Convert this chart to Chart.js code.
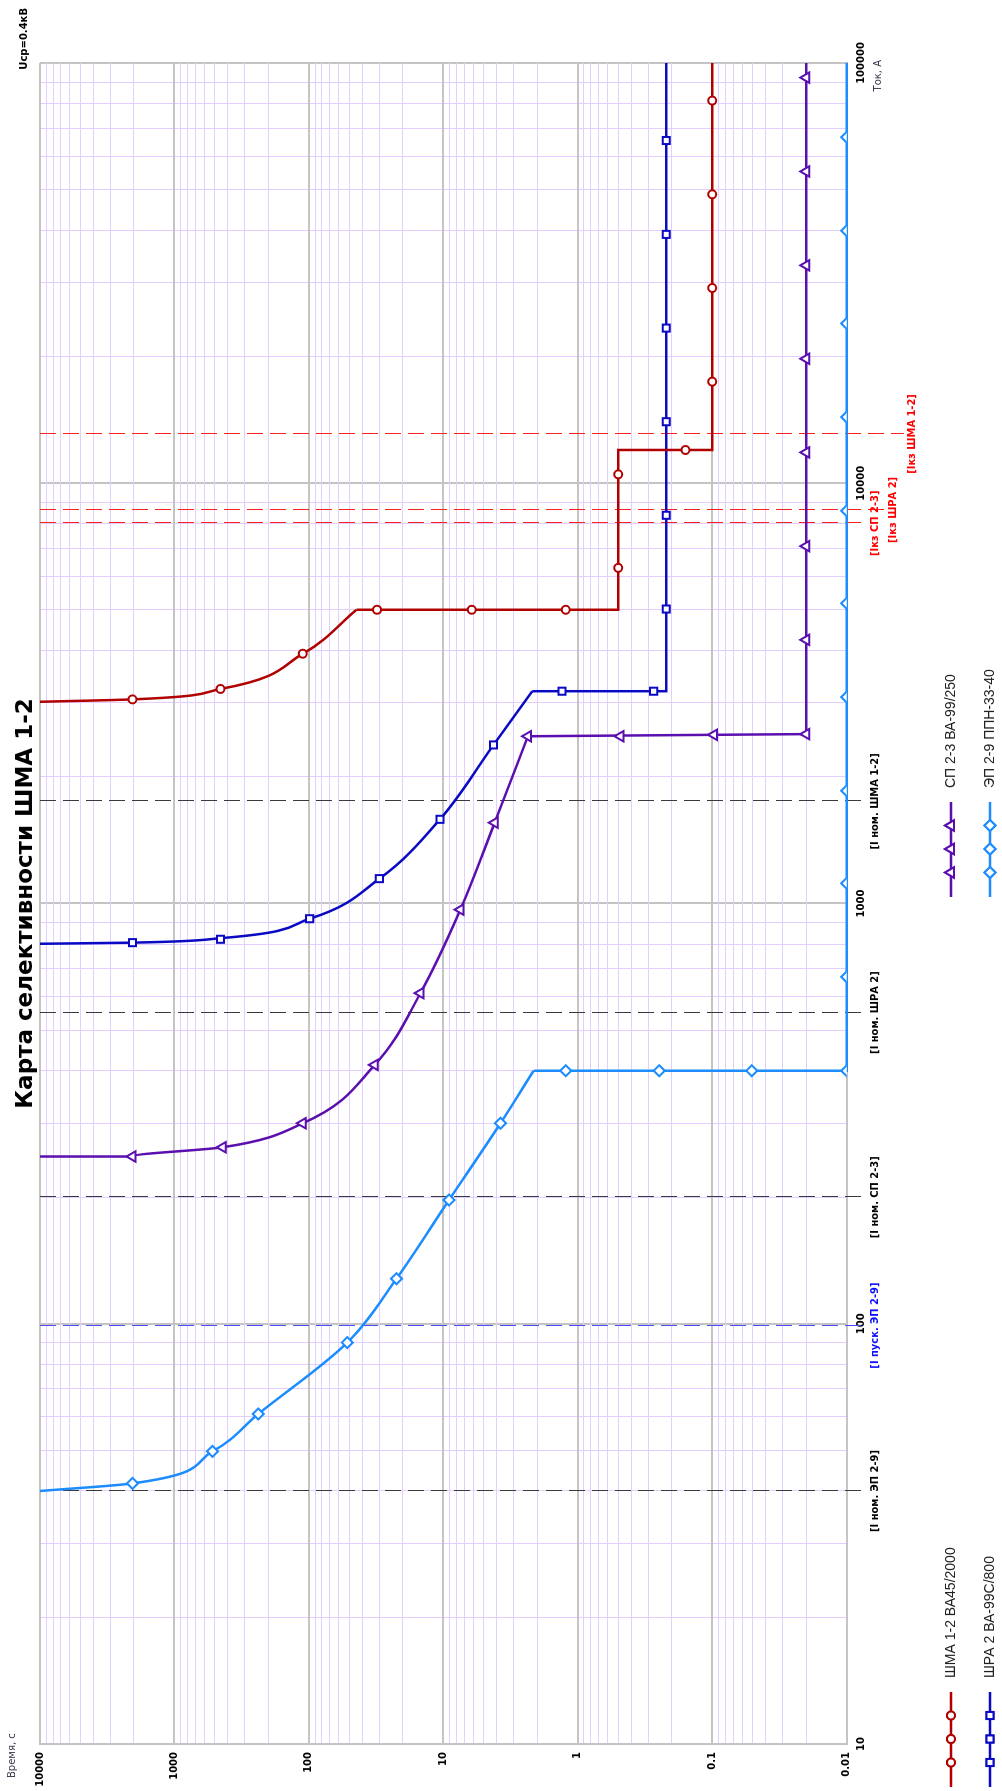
<!DOCTYPE html>
<html><head><meta charset="utf-8">
<script src="https://cdn.jsdelivr.net/npm/chart.js@4/dist/chart.umd.min.js"></script>
<style>
html,body{margin:0;padding:0;background:#fff;overflow:hidden;width:1002px;height:1791px}
#wrap{position:absolute;left:0;top:1791px;width:1791px;height:1002px;transform-origin:0 0;transform:rotate(-90deg)}
canvas{display:block}
</style></head><body>
<div id="wrap"><canvas id="c" width="1791" height="1002"></canvas></div>
<script>
// ================= DATA =================
const chartTitle = 'Карта селективности ШМА 1-2';
const voltageNote = 'Uср=0.4кВ';
const currentAxisTitle = 'Ток, А';
const timeAxisTitle = 'Время, с';
const seriesNames = ['ШМА 1-2 ВА45/2000', 'ШРА 2 ВА-99С/800', 'СП 2-3 ВА-99/250', 'ЭП 2-9 ППН-33-40'];

const currentTickValues = [10, 100, 1000, 10000, 100000];
const currentTickLabels = ['10', '100', '1000', '10000', '100000'];
const timeTickValues = [0.01, 0.1, 1, 10, 100, 1000, 10000];
const timeTickLabels = ['0.01', '0.1', '1', '10', '100', '1000', '10000'];

// ШМА 1-2 ВА45/2000 (current A, time s)
const shmaCurveI = [3020, 3060, 3240, 3930, 5000];
const shmaCurveT = [10000, 2050, 454, 111, 44.3];
const shmaStepI = [5000, 5000, 12000, 12000, 100000];
const shmaStepT = [44.3, 0.5, 0.5, 0.1, 0.1];
const shmaMarkI = [3060, 3240, 3930, 5000, 5000, 5000, 6290, 10500, 12000, 17450, 29150, 48700, 81400];
const shmaMarkT = [2050, 454, 111, 31.1, 6.14, 1.23, 0.5, 0.5, 0.158, 0.1, 0.1, 0.1, 0.1];

// ШРА 2 ВА-99С/800
const shraCurveI = [802, 807, 827, 920, 1146, 1586, 2384, 3200];
const shraCurveT = [10000, 2050, 454, 98.8, 29.9, 10.6, 4.23, 2.18];
const shraStepI = [3200, 3200, 100000];
const shraStepT = [2.18, 0.22, 0.22];
const shraMarkI = [807, 822, 920, 1146, 1586, 2384, 3200, 3200, 5020, 8390, 14010, 23400, 39100, 65400];
const shraMarkT = [2050, 454, 98.8, 29.9, 10.6, 4.23, 1.31, 0.273, 0.22, 0.22, 0.22, 0.22, 0.22, 0.22];

// СП 2-3 ВА-99/250
const spCurveI = [250, 250, 263, 300, 413, 612, 967, 1557, 2500];
const spCurveT = [10000, 2050, 437, 111, 32.4, 14.8, 7.46, 4.15, 2.35];
const spStepI = [2500, 2530, 100000];
const spStepT = [2.35, 0.02, 0.02];
const spMarkI = [250, 263, 300, 413, 612, 967, 1557, 2500, 2500, 2520, 2530, 4240, 7085, 11840, 19780, 33000, 55200, 92300];
const spMarkT = [2050, 437, 111, 32.4, 14.8, 7.46, 4.15, 2.35, 0.482, 0.0969, 0.02, 0.02, 0.02, 0.02, 0.02, 0.02, 0.02, 0.02];

// ЭП 2-9 ППН-33-40
const epCurveI = [40, 41.7, 49.7, 61, 90.2, 128, 197, 300, 400];
const epCurveT = [10000, 2050, 521, 238, 51.8, 22.3, 9.08, 3.76, 2.13];
const epStepI = [400, 400, 100000];
const epStepT = [2.13, 0.01, 0.01];
const epMarkI = [41.7, 49.7, 61, 90.2, 128, 197, 300, 400, 400, 400, 400, 669, 1117, 1855, 3099, 5180, 8600, 14370, 24000, 39900, 66600];
const epMarkT = [2050, 521, 238, 51.8, 22.3, 9.08, 3.76, 1.23, 0.248, 0.0508, 0.01, 0.01, 0.01, 0.01, 0.01, 0.01, 0.01, 0.01, 0.01, 0.01, 0.01];

// reference currents (dashed lines)
const refCurrents = [40, 99, 200, 550, 1750, 8030, 8640, 13100];
const refLabels = ['[I ном. ЭП 2-9]', '[I пуск. ЭП 2-9]', '[I ном. СП 2-3]', '[I ном. ШРА 2]', '[I ном. ШМА 1-2]', '[Iкз СП 2-3]', '[Iкз ШРА 2]', '[Iкз ШМА 1-2]'];
const refKinds = ['nom', 'start', 'nom', 'nom', 'nom', 'sc', 'sc', 'sc'];

// ================= STYLES =================
const seriesStyles = [
  {color: '#b00000', point: 'circle', r: 4},
  {color: '#0a0ac4', point: 'rect', r: 5},
  {color: '#5a0fae', point: 'triangle', r: 6},
  {color: '#1c8cff', point: 'rectRot', r: 5.5}
];
const refStyles = {
  nom: {line: '#3a3a3a', text: '#000000'},
  start: {line: '#4a4aff', text: '#1010ff'},
  sc: {line: '#ff2020', text: '#ff0000'}
};
const refLabelRow = [0, 0, 0, 0, 0, 0, 1, 2];
const labelRowCenter = [875, 893.5, 912];
const FONT = "'DejaVu Sans', sans-serif";
const LBLFONT = "'Liberation Sans', Arial, sans-serif";
const REFFONT = "bold 11px 'DejaVu Sans Condensed', 'DejaVu Sans', sans-serif";

// ================= BUILD =================
const pts = (I, T) => I.map((v, i) => ({x: v, y: T[i]}));
const allSeries = [
  [shmaCurveI, shmaCurveT, shmaStepI, shmaStepT, shmaMarkI, shmaMarkT],
  [shraCurveI, shraCurveT, shraStepI, shraStepT, shraMarkI, shraMarkT],
  [spCurveI, spCurveT, spStepI, spStepT, spMarkI, spMarkT],
  [epCurveI, epCurveT, epStepI, epStepT, epMarkI, epMarkT]
];
const datasets = [];
allSeries.forEach((s, k) => {
  const st = seriesStyles[k];
  datasets.push({label: seriesNames[k] + ' curve', data: pts(s[0], s[1]), showLine: true, borderColor: st.color,
    borderWidth: 2.5, pointRadius: 0, cubicInterpolationMode: 'monotone', clip: 4, order: 2});
  datasets.push({label: seriesNames[k] + ' step', data: pts(s[2], s[3]), showLine: true, borderColor: st.color,
    borderWidth: 2.5, pointRadius: 0, tension: 0, clip: 4, order: 2});
  datasets.push({label: seriesNames[k], data: pts(s[4], s[5]), showLine: false, borderColor: st.color,
    backgroundColor: '#ffffff', pointStyle: st.point, pointRadius: st.r, pointBorderWidth: 2, clip: 0, order: 1});
});

const isDecade = v => Math.abs(Math.log10(v) - Math.round(Math.log10(v))) < 1e-6;
const lookup = (vals, labels, v) => {
  for (let i = 0; i < vals.length; i++) if (Math.abs(vals[i] - v) / vals[i] < 1e-6) return labels[i];
  return '';
};
const gridColor = c => (c.tick && isDecade(c.tick.value)) ? '#c4c4c4' : '#e3cfff';
const gridWidth = c => (c.tick && isDecade(c.tick.value)) ? 2 : 1;

const refPlugin = {
  id: 'refLines',
  beforeDatasetsDraw(chart) {
    const {ctx, chartArea} = chart;
    const xs = chart.scales.x;
    ctx.save();
    refCurrents.forEach((I, i) => {
      const st = refStyles[refKinds[i]];
      const x = Math.round(xs.getPixelForValue(I)) + 0.5;
      const rowC = labelRowCenter[refLabelRow[i]];
      ctx.beginPath();
      ctx.setLineDash([16, 7]);
      ctx.strokeStyle = st.line;
      ctx.lineWidth = 1;
      ctx.moveTo(x, chartArea.top);
      ctx.lineTo(x, rowC - 8);
      ctx.stroke();
    });
    ctx.restore();
  },
  afterDraw(chart) {
    const {ctx} = chart;
    const xs = chart.scales.x;
    ctx.save();
    ctx.textAlign = 'center';
    ctx.textBaseline = 'middle';
    ctx.font = REFFONT;
    refCurrents.forEach((I, i) => {
      const st = refStyles[refKinds[i]];
      const x = xs.getPixelForValue(I);
      ctx.fillStyle = st.text;
      ctx.fillText(refLabels[i], x, labelRowCenter[refLabelRow[i]]);
    });
    ctx.restore();
  }
};

const textPlugin = {
  id: 'texts',
  afterDraw(chart) {
    const {ctx, chartArea} = chart;
    ctx.save();
    // title
    ctx.fillStyle = '#000';
    ctx.font = "bold 23px " + FONT;
    ctx.textAlign = 'center';
    ctx.textBaseline = 'alphabetic';
    ctx.fillText(chartTitle, (chartArea.left + chartArea.right) / 2, 32);
    // voltage
    ctx.font = "bold 10px " + FONT;
    ctx.textAlign = 'right';
    ctx.fillText(voltageNote, 1783, 27);
    // axis titles
    ctx.font = "10px " + FONT;
    ctx.fillStyle = '#3c3c50';
    ctx.textAlign = 'left';
    ctx.fillText(timeAxisTitle, 13, 15);
    ctx.textAlign = 'right';
    ctx.fillText(currentAxisTitle, 1731, 881);
    // legend
    const cols = [4, 894];
    const rows = [951, 990];
    const order = [[0, 0], [1, 0], [0, 1], [1, 1]]; // [row, col] for each series
    ctx.font = "14px " + LBLFONT;
    ctx.textBaseline = 'middle';
    ctx.textAlign = 'left';
    seriesNames.forEach((name, k) => {
      const st = seriesStyles[k];
      const x0 = cols[order[k][1]];
      const y = rows[order[k][0]];
      ctx.beginPath();
      ctx.setLineDash([]);
      ctx.strokeStyle = st.color;
      ctx.lineWidth = 2.5;
      ctx.moveTo(x0, y);
      ctx.lineTo(x0 + 95, y);
      ctx.stroke();
      [24.5, 48, 71.5].forEach(dx => {
        ctx.fillStyle = '#fff';
        ctx.lineWidth = 2;
        Chart.helpers.drawPoint(ctx, {pointStyle: st.point, radius: st.r, borderWidth: 2, rotation: 0}, x0 + dx, y);
        ctx.fill();
        ctx.stroke();
      });
      ctx.fillStyle = '#222';
      ctx.fillText(name, x0 + 109, y);
    });
    ctx.restore();
  }
};

new Chart(document.getElementById('c'), {
  type: 'scatter',
  data: {datasets},
  options: {
    responsive: false,
    animation: false,
    events: [],
    layout: {padding: {left: 0, right: 63, top: 40, bottom: 0}},
    plugins: {legend: {display: false}, title: {display: false}, tooltip: {enabled: false}},
    scales: {
      x: {
        type: 'logarithmic', position: 'bottom', min: 10, max: 100000,
        afterBuildTicks(scale) {
          const t = [];
          for (let e = 1; e <= 4; e++) for (let m = 1; m < 10; m++) t.push({value: m * Math.pow(10, e)});
          t.push({value: 100000});
          scale.ticks = t;
        },
        afterFit(scale) { scale.height = 155.3; },
        grid: {color: gridColor, lineWidth: gridWidth, drawTicks: false},
        border: {display: true, color: '#c4c4c4', width: 2},
        ticks: {autoSkip: false, maxRotation: 0, padding: 9, color: '#000',
          font: {family: FONT, size: 10, weight: 'bold'},
          callback: v => lookup(currentTickValues, currentTickLabels, v)}
      },
      y: {
        type: 'logarithmic', position: 'left', min: 0.01, max: 10000,
        afterBuildTicks(scale) {
          const t = [];
          for (let e = -2; e <= 3; e++) for (let m = 1; m < 10; m++) t.push({value: m * Math.pow(10, e)});
          t.push({value: 10000});
          scale.ticks = t;
        },
        afterFit(scale) { scale.width = 47; },
        grid: {color: gridColor, lineWidth: gridWidth, drawTicks: false},
        border: {display: true, color: '#c4c4c4', width: 2},
        ticks: {autoSkip: false, padding: 8, color: '#000',
          font: {family: FONT, size: 10, weight: 'bold'},
          callback: v => lookup(timeTickValues, timeTickLabels, v)}
      }
    }
  },
  plugins: [refPlugin, textPlugin]
});
</script>
</body></html>
